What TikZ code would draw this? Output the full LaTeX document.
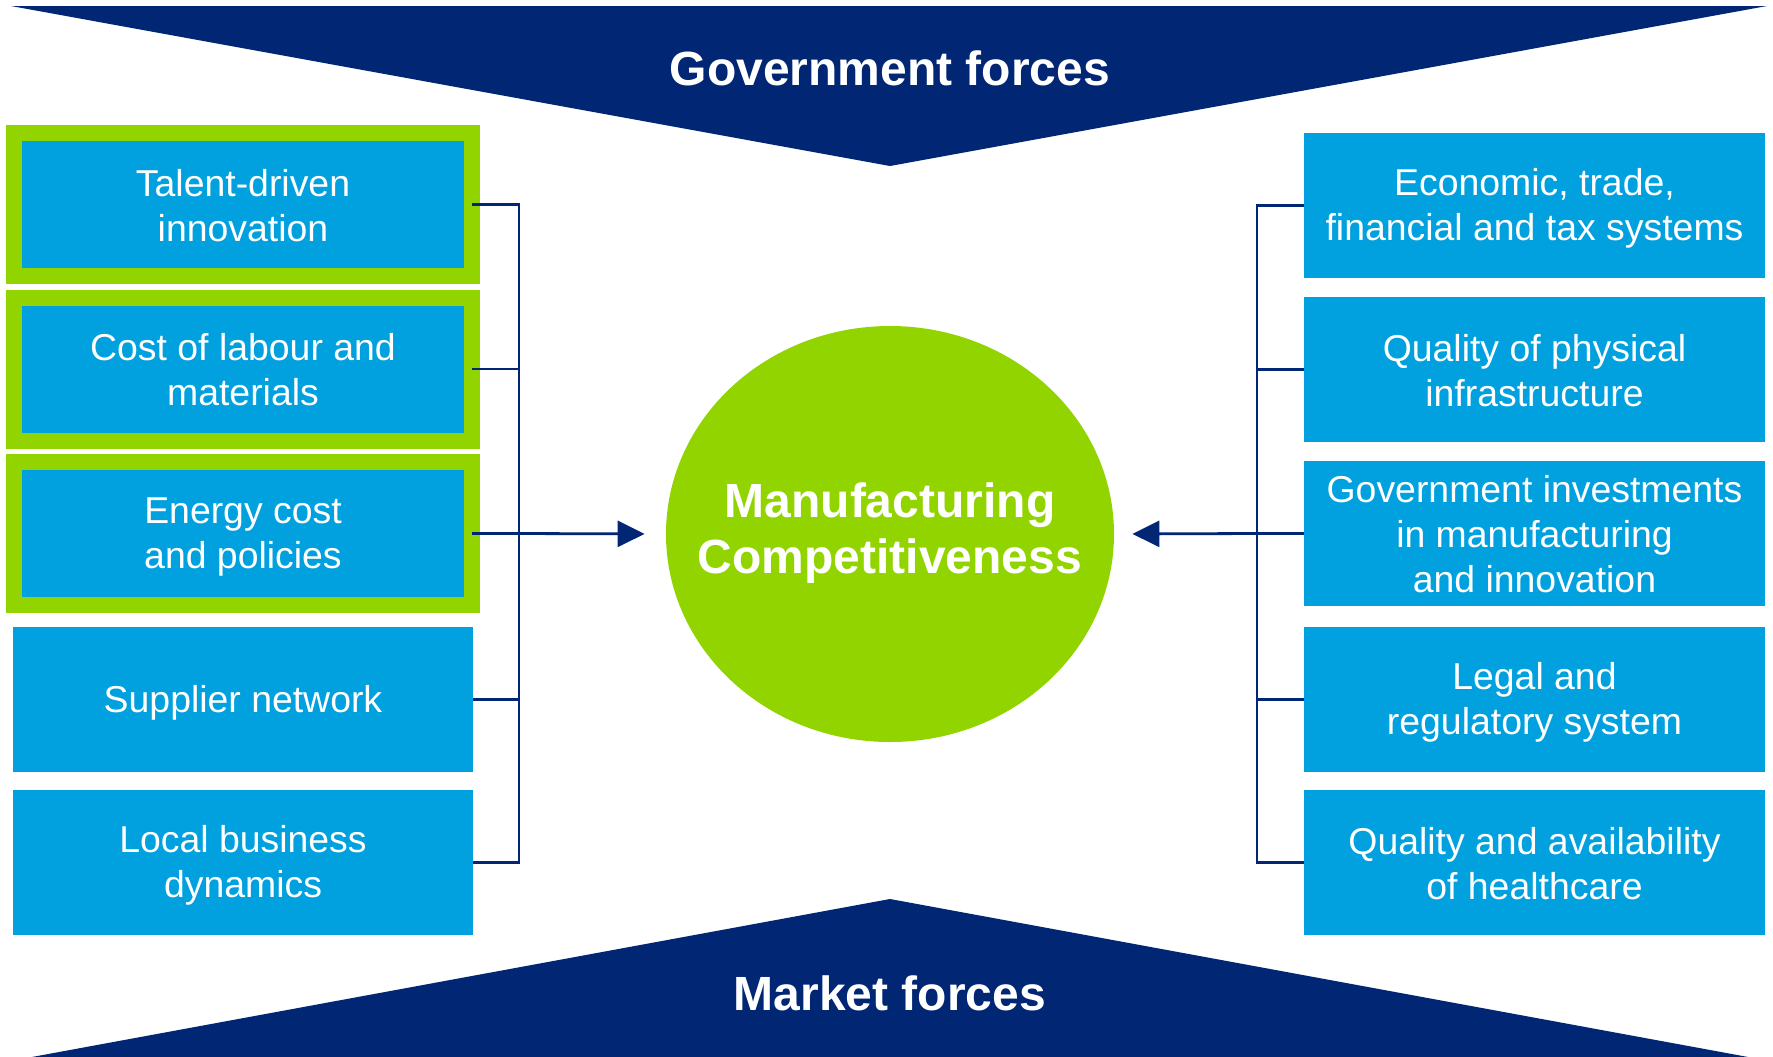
\documentclass[tikz,border=0pt]{standalone}
\usepackage{fontspec}
\setmainfont{Liberation Sans}
\usetikzlibrary{shapes.geometric,arrows.meta}
\definecolor{navy}{RGB}{0,38,116}
\definecolor{boxblue}{RGB}{0,161,222}
\definecolor{lgreen}{RGB}{146,212,0}
\newcommand\bs{\rule[-2.5pt]{0pt}{19pt}}
\newcommand\bbs{\rule[-7pt]{0pt}{25pt}}
\begin{document}
\begin{tikzpicture}[x=0.5pt,y=-0.5pt,
 factor/.style={fill=boxblue, text=white, align=center, inner sep=0pt, outer sep=0pt,
   minimum width=230pt, minimum height=72.5pt, font=\fontsize{18.7pt}{22.5pt}\selectfont},
 gfactor/.style={factor, draw=lgreen, line width=8pt, minimum width=229pt, minimum height=71.5pt},
 rfactor/.style={factor, minimum width=230.5pt},
 conn/.style={draw=navy, line width=1.4pt},
 arr/.style={conn, -{Triangle[length=13.5pt,width=13pt]}},
 force/.style={text=white, font=\bfseries\fontsize{24pt}{28pt}\selectfont, inner sep=0pt, anchor=base}]
\useasboundingbox (0,0) rectangle (1773,1056);
\fill[white] (0,0) rectangle (1773,1056);
\begin{scope}
\clip (0,0) rectangle (1773,1056);
\fill[navy] (11,6) -- (1767,6) -- (890,166) -- cycle;
\fill[navy] (890,899) -- (1759,1059) -- (21,1059) -- cycle;
\end{scope}
\node[force] (gov) at (890,85) {Government forces};
\node[force] (mkt) at (890,1010) {Market forces};

% centre
\node[ellipse, fill=lgreen, inner sep=0pt, minimum width=224pt, minimum height=208pt] (mc) at (890,534) {};
\node[text=white, align=center, inner sep=0pt, font=\bfseries\fontsize{24pt}{28pt}\selectfont] (mctext) at (mc.center) {\bbs Manufacturing\\Competitiveness\bbs};

% left
\node[gfactor] (l1) at (243,204.5) {\bs Talent-driven\\innovation\bs};
\node[gfactor] (l2) at (243,369) {\bs Cost of labour and\\materials\bs};
\node[gfactor] (l3) at (243,533.5) {\bs Energy cost\\and policies\bs};
\node[factor] (l4) at (243,699.5) {\bs Supplier network\bs};
\node[factor] (l5) at (243,862.5) {\bs Local business\\dynamics\bs};

% right
\node[rfactor] (r1) at (1534.5,205.5) {\bs Economic, trade,\\financial and tax systems\bs};
\node[rfactor] (r2) at (1534.5,369.5) {\bs Quality of physical\\infrastructure\bs};
\node[rfactor] (r3) at (1534.5,533.5) {\bs Government investments\\in manufacturing\\and innovation\bs};
\node[rfactor] (r4) at (1534.5,699.5) {\bs Legal and\\regulatory system\bs};
\node[rfactor] (r5) at (1534.5,862.5) {\bs Quality and availability\\of healthcare\bs};

% connectors
\coordinate (ls) at (519,533.5);
\coordinate (rs) at (1257,533.5);
\draw[conn] (l1.east) -- (l1.east -| ls) -- (l5.east -| ls) -- (l5.east);
\foreach \n in {l2,l3,l4} \draw[conn] (\n.east) -- (\n.east -| ls);
\draw[arr, shorten >=10.5pt] (ls) -- (mc.west);
\draw[conn] (r1.west) -- (r1.west -| rs) -- (r5.west -| rs) -- (r5.west);
\foreach \n in {r2,r3,r4} \draw[conn] (\n.west) -- (\n.west -| rs);
\draw[arr, shorten >=9pt] (rs) -- (mc.east);
\end{tikzpicture}
\end{document}
